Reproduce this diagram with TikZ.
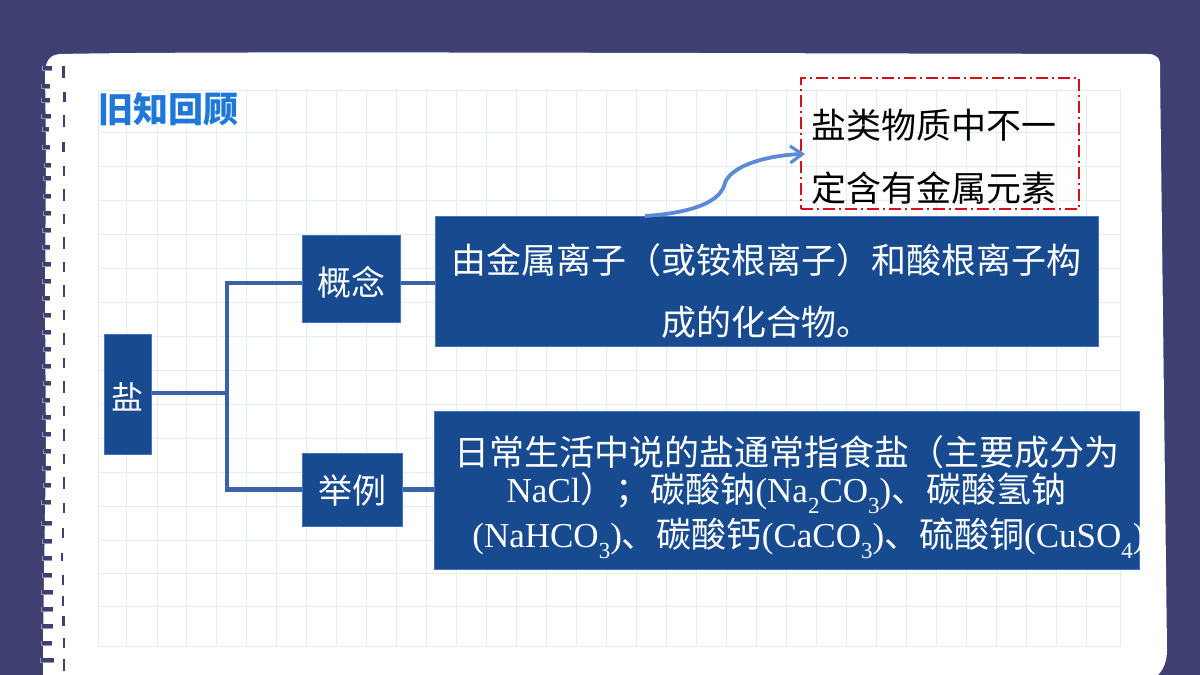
\documentclass[tikz,border=0pt]{standalone}
\usepackage{fontspec}
\setmainfont{Liberation Serif}
\newfontfamily\cjk{Noto Sans CJK SC}
\usetikzlibrary{arrows.meta,calc}
\definecolor{bgc}{HTML}{3F3F72}
\definecolor{boxc}{HTML}{174A8E}
\definecolor{boxl}{HTML}{4472C4}
\definecolor{connc}{HTML}{3A63A6}
\definecolor{gridc}{HTML}{E2EDF0}
\definecolor{redc}{HTML}{D0121B}
\definecolor{arrowc}{HTML}{5B8BD6}
\definecolor{titlec}{HTML}{1F78D8}
\newcommand{\fs}[1]{\fontsize{#1pt}{#1pt}\selectfont}
\newcommand{\subn}[1]{\raisebox{-0.32em}{\fs{23}#1}}
\tikzset{
 bluebox/.style={draw=boxl,line width=1pt,fill=boxc,text=white,inner sep=0pt,align=center},
 conn/.style={draw=connc,line width=4.5pt},
 gridline/.style={draw=gridc,line width=0.8pt},
 ringtick/.style={draw=bgc,line width=2.6pt},
}
\begin{document}
\begin{tikzpicture}[x=1pt,y=-1pt]
\useasboundingbox (0,0) rectangle (1200,675);
\fill[bgc] (0,0) rectangle (1200,675);
% paper
\fill[white] (60,54) .. controls (200,51) and (600,53) .. (1148,54)
 .. controls (1157,54) and (1161,59) .. (1160,68)
 -- (1167,650) .. controls (1167,662) and (1163,670) .. (1158,675)
 -- (43,675) -- (43,640) -- (46,450) -- (45,300) -- (46,150) -- (45,72)
 .. controls (46,60) and (50,55) .. (60,54) -- cycle;
% grid
\foreach \x in {98,126,157,186,216,246,276,306,336,366,396,426,456,486,516,546,576,606,636,666,696,726,756,786,816,846,876,906,936,966,996,1026,1056,1086,1120}
 \draw[gridline] (\x,90) -- (\x,646);
\foreach \y in {90,132,166,200,234,268,302,336,370,404,438,472,506,540,573,606,646}
 \draw[gridline] (98,\y) -- (1120,\y);
% binding rings
\foreach \y/\a/\b in {68/42/52,86/41/50,100/41/50,116/41/51,129/42/49,147/42/50,165/44/51,178/43/51,196/43/51,213/43/51,230/42/51,247/42/50,264/42/51,281/42/51,298/42/50,315/43/51,332/42/51,349/43/51,366/42/51,383/43/51,400/42/50,417/42/51,434/42/51,451/43/51,468/42/51,485/43/51,502/41/51,523/41/52,541/42/52,558/42/52,575/42/52,592/41/53,609/41/53,626/41/53,643/41/52,660/40/54}
 {\draw[line width=5pt,draw=bgc!55!white] (\a,\y) -- (\b,\y);
  \draw[line width=3.6pt,draw=bgc] (\a+1,\y) -- (\b,\y);}
\foreach \y/\x/\h in {72/63.5/6,97/64.5/5,121/64/6,147/63.5/5,171/64/5,195/64/6,219/64/5,243/64/6,267/64/5,291/64/6,315/64/5,339/64/6,363/64/5,387/64/6,411/64/5,435/64/6,459/64/5,483/64/6,508/64/5,533/63/5,557/62/4,580/63/5,601/63/5,621/63.5/5,643/64/5,665/64/6}
 \draw[ringtick] (\x,\y-\h) -- (\x,\y+\h);
% title
\node[text=titlec,inner sep=0pt,font=\cjk\bfseries\fs{35}] (title) at (168.5,109) {旧知回顾};
% boxes
\node[bluebox,minimum width=47pt,minimum height=120pt,font=\cjk\fs{32}] (salt) at (127.5,394.5) {\rule{0pt}{32pt}盐};
\node[bluebox,minimum width=98pt,minimum height=87pt,font=\cjk\fs{34}] (concept) at (351,278.5) {\rule{0pt}{36pt}概念};
\node[bluebox,minimum width=100pt,minimum height=73pt,font=\cjk\fs{34}] (example) at (352,489.5) {\rule{0pt}{30pt}举例};
\node[bluebox,minimum width=663pt,minimum height=130pt,text width=650pt,font=\cjk\fs{35}] (def) at (766.5,281)
 {\rule{0pt}{50pt}由金属离子（或铵根离子）和酸根离子构\\[27pt]成的化合物。};
\node[bluebox,minimum width=705pt,minimum height=158pt,text width=693pt,font=\fs{35}] (ex) at (786.5,490)
 {\rule{0pt}{44pt}{\cjk 日常生活中说的盐通常指食盐（主要成分为}\\[2pt]
  NaCl{\cjk）；碳酸钠}(Na\subn{2}CO\subn{3}){\cjk、碳酸氢钠}\\[3pt]
  \makebox[\linewidth][c]{\hspace{44pt}(NaHCO\subn{3}){\cjk、碳酸钙}(CaCO\subn{3}){\cjk、硫酸铜}(CuSO\subn{4})}};
\node[draw=redc,line width=2pt,dash pattern=on 12pt off 4pt on 2pt off 4pt,inner sep=0pt,
 minimum width=278pt,minimum height=131pt,align=center,text=black,font=\cjk\fs{35}] (note) at (940,143.5)
 {\rule{0pt}{56pt}盐类物质中不一\kern13pt\\[28pt]定含有金属元素\kern13pt};
% connectors
\coordinate (junction) at (227,393);
\coordinate (arrowstart) at (645,216);
\coordinate (arrowend) at (805,154);
\coordinate (conceptport) at ($(concept.west)+(0,4.5)$);
\coordinate (conceptout) at ($(concept.east)+(0,4.5)$);
\draw[conn] (salt.east |- junction) -- (junction);
\draw[conn,line join=miter] (conceptport) -| (junction) |- (example.west);
\draw[conn] (conceptout) -- (conceptout -| def.west);
\draw[conn] (example.east) -- (example.east -| ex.west);
\draw[draw=arrowc,line width=3.8pt,-{Straight Barb[length=12pt,width=17pt,line width=3.2pt]}]
 (arrowstart) .. controls (690,213) and (718,203) .. (724,186)
 .. controls (728,165) and (770,155) .. (arrowend);
\end{tikzpicture}
\end{document}
